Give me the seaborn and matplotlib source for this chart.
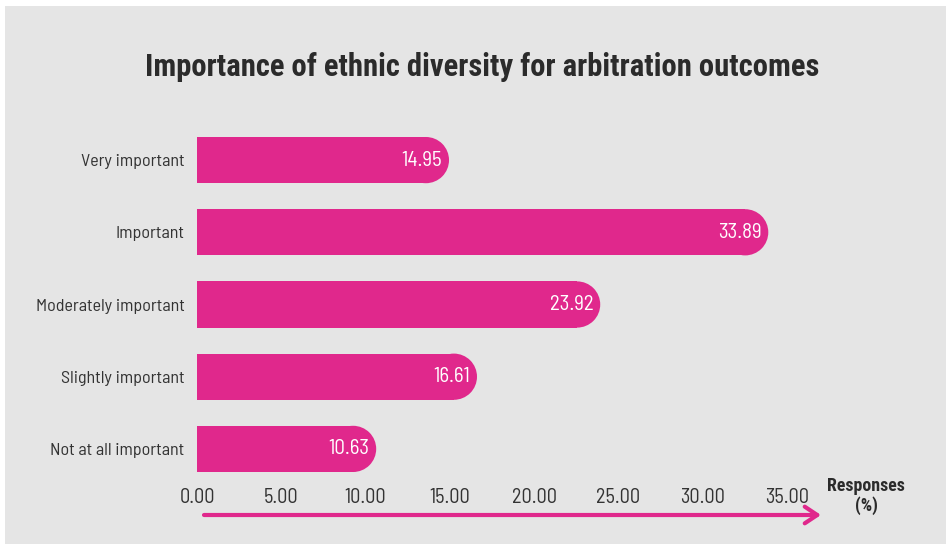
import matplotlib
matplotlib.use("Agg")
import matplotlib.pyplot as plt
from matplotlib.patches import Ellipse, Rectangle
import seaborn as sns
import pandas as pd

categories = ["Very important", "Important", "Moderately important",
              "Slightly important", "Not at all important"]
values = [14.95, 33.89, 23.92, 16.61, 10.63]
xticks = [0, 5, 10, 15, 20, 25, 30, 35]
title = "Importance of ethnic diversity for arbitration outcomes"
xlabel = "Responses\n(%)"

BG = "#E5E5E5"
PINK = "#E0288C"
TXT = "#333333"
BODY = ["Barlow Semi Condensed", "DejaVu Sans"]
HEAD = ["Roboto Condensed", "DejaVu Sans"]

sns.set_theme(style="white")
plt.rcParams["font.family"] = BODY

W, H = 946, 544
fig = plt.figure(figsize=(W / 100, H / 100), dpi=100)
fig.patch.set_facecolor("white")
fig.patches.append(Rectangle((5 / W, 0), 1, 1 - 6 / H, transform=fig.transFigure,
                             facecolor=BG, edgecolor="none", zorder=-10))

ax_l, ax_r = 197, 787
ax_t, ax_b = 124, 485
ax = fig.add_axes([ax_l / W, 1 - ax_b / H, (ax_r - ax_l) / W, (ax_b - ax_t) / H])
ax.set_facecolor("none")

df = pd.DataFrame({"cat": categories, "val": values})
sns.barplot(data=df, x="val", y="cat", orient="h", color=PINK, width=0.64,
            saturation=1, ax=ax)
ax.set_xlim(0, 35)
ax.set_ylim(len(categories) - 0.5, -0.5)

renderer = fig.canvas.get_renderer()


def fit(t, target_px):
    w = t.get_window_extent(renderer).width
    t.set_fontsize(t.get_fontsize() * target_px / w)


# convert rectangles to right-rounded bars (rectangle + half ellipse)
px_x = (ax_r - ax_l) / 35.0
px_y = (ax_b - ax_t) / len(categories)
for p in list(ax.patches):
    x0, y0 = p.get_x(), p.get_y()
    w, h = p.get_width(), p.get_height()
    r_x = (h / 2) * px_y / px_x
    p.set_width(max(w - r_x, 0))
    p.set_edgecolor("none")
    p.set_linewidth(0)
    e = Ellipse((x0 + w - r_x, y0 + h / 2), 2 * r_x, h, facecolor=PINK,
                edgecolor="none", zorder=p.get_zorder())
    ax.add_patch(e)
    t = ax.text(x0 + w - 0.4, y0 + h / 2, f"{w:.2f}", ha="right", va="center",
                color="white", fontsize=13, zorder=5, family=BODY)

vt = [t for t in ax.texts]
for t in vt:
    pass

ax.set_xticks(xticks)
ax.set_xticklabels([f"{t:.2f}" for t in xticks], fontsize=13, color=TXT)
ax.tick_params(axis="x", length=0, pad=2)
ax.tick_params(axis="y", length=0, pad=9, labelsize=13, labelcolor=TXT)
ax.set_xlabel("")
ax.set_ylabel("")
for s in ax.spines.values():
    s.set_visible(False)

# size text to the reference widths
fig.canvas.draw()
lab = [t for t in ax.get_yticklabels() if t.get_text() == "Moderately important"][0]
w0 = lab.get_window_extent(renderer).width
ysz = 13 * 149 / w0
ax.tick_params(axis="y", labelsize=ysz)
xl = ax.get_xticklabels()[-1]
w1 = xl.get_window_extent(renderer).width
xsz = 13 * 44 / w1
ax.tick_params(axis="x", labelsize=xsz)
w2 = vt[0].get_window_extent(renderer).width
for t in vt:
    t.set_fontsize(13 * 41 / w2)

tt = fig.text(482 / W, 1 - 67 / H, title, ha="center", va="center", fontsize=21,
              fontweight="bold", color="#2b2b2b", family=HEAD)
fit(tt, 674)
rl = fig.text(866 / W, 1 - 496 / H, xlabel, ha="center", va="center", fontsize=11,
              fontweight="bold", color="#2b2b2b", linespacing=1.15, family=HEAD)
fit(rl, 78)

ax.annotate("", xy=(821 / W, 1 - 515 / H), xytext=(204 / W, 1 - 515 / H),
            xycoords="figure fraction", textcoords="figure fraction",
            arrowprops=dict(arrowstyle="->,head_length=0.45,head_width=0.3",
                            color=PINK, lw=3, mutation_scale=20,
                            shrinkA=0, shrinkB=0))

fig.savefig("out.png", dpi=100, facecolor=fig.get_facecolor())
